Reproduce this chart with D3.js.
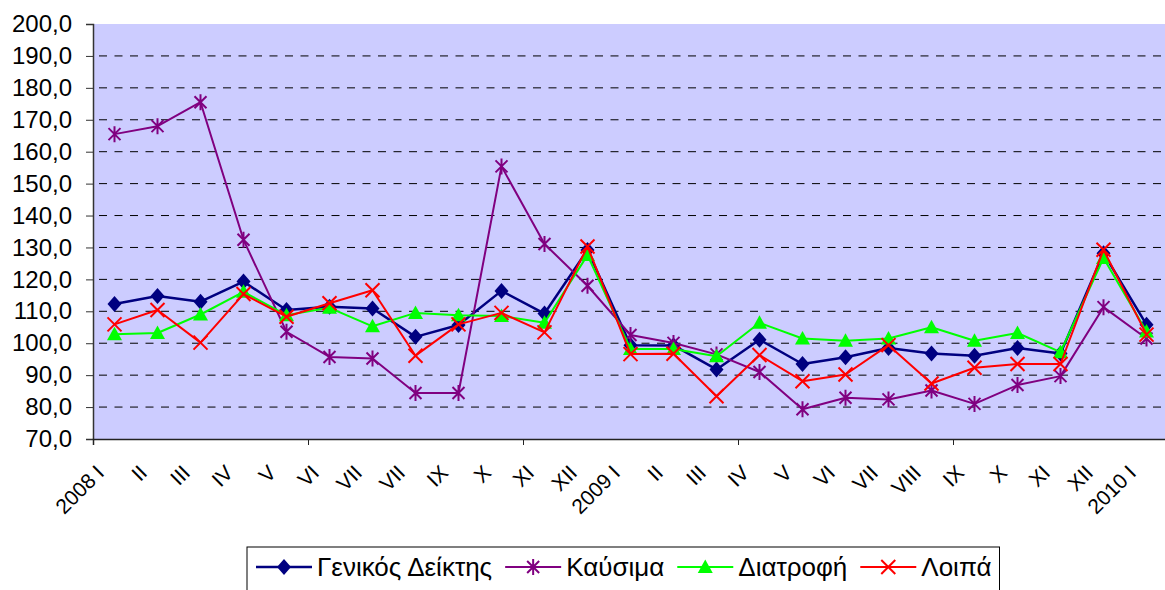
<!DOCTYPE html>
<html>
<head>
<meta charset="utf-8">
<script src="https://cdn.jsdelivr.net/npm/d3@7"></script>
<style>
  body { margin: 0; background: #fff; }
  svg { display: block; font-family: "Liberation Sans", Arial, sans-serif; }
</style>
</head>
<body>
<svg id="chart" width="1165" height="590"></svg>
<script>
// month labels along the x axis (as printed on the chart)
const months = ['2008 I', 'II', 'III', 'IV', 'V', 'VI', 'VII', 'VII', 'IX', 'X', 'XI', 'XII',
  '2009 I', 'II', 'III', 'IV', 'V', 'VI', 'VII', 'VIII', 'IX', 'X', 'XI', 'XII', '2010 I'];

const genikos = [112.3, 114.8, 113.0, 119.3, 110.4, 111.4, 110.9, 102.0, 105.7, 116.4, 109.3, 129.2,
  99.4, 99.3, 91.8, 101.1, 93.5, 95.6, 98.5, 96.8, 96.1, 98.5, 96.8, 128.2, 105.8];
const kafsima = [165.5, 168.0, 175.5, 132.4, 103.6, 95.7, 95.2, 84.4, 84.4, 155.4, 131.1, 118.0,
  102.6, 100.1, 96.5, 91.0, 79.3, 82.9, 82.4, 85.2, 81.0, 86.9, 89.7, 111.3, 101.5];
const diatrofi = [102.8, 103.2, 109.0, 116.1, 108.8, 111.1, 105.3, 109.5, 108.8, 108.5, 106.4, 127.6,
  98.2, 98.2, 95.9, 106.4, 101.5, 100.8, 101.5, 105.0, 100.8, 103.2, 97.2, 126.7, 103.7];
const loipa = [105.9, 110.4, 100.2, 115.4, 108.3, 112.5, 116.6, 96.1, 105.9, 109.5, 103.4, 130.3,
  96.6, 96.7, 83.4, 96.3, 88.1, 90.2, 99.4, 87.4, 92.3, 93.5, 93.5, 129.3, 102.7];

const seriesNames = ['Γενικός Δείκτης', 'Καύσιμα', 'Διατροφή', 'Λοιπά'];
const yTicks = d3.range(70, 201, 10);

const series = [
  { name: seriesNames[0], values: genikos, color: '#000080', marker: 'diamond', width: 2.5 },
  { name: seriesNames[1], values: kafsima, color: '#800080', marker: 'star', width: 2 },
  { name: seriesNames[2], values: diatrofi, color: '#00FF00', marker: 'triangle', width: 2 },
  { name: seriesNames[3], values: loipa, color: '#FF0000', marker: 'cross', width: 2 }
];

const svg = d3.select('#chart');
const plotLeft = 93, plotRight = 1168, plotTop = 24, plotBottom = 439;

const x = d3.scaleBand().domain(d3.range(months.length)).range([plotLeft, plotRight]);
const xEdge = d3.scaleLinear().domain([0, months.length]).range([plotLeft, plotRight]);
const y = d3.scaleLinear().domain([70, 200]).range([plotBottom, plotTop]);

// plot background
svg.append('rect')
  .attr('x', plotLeft).attr('y', plotTop)
  .attr('width', plotRight - plotLeft).attr('height', plotBottom - plotTop)
  .attr('fill', '#CCCCFF');

// dashed gridlines
svg.append('g')
  .selectAll('line')
  .data(yTicks.filter(d => d > 70 && d < 200))
  .join('line')
  .attr('x1', plotLeft + 6).attr('x2', plotRight)
  .attr('y1', d => y(d)).attr('y2', d => y(d))
  .attr('stroke', '#000')
  .attr('stroke-width', 1)
  .attr('stroke-dasharray', '8,7.5');

// y axis
const yAxis = svg.append('g')
  .attr('transform', `translate(${plotLeft},0)`)
  .call(d3.axisLeft(y).tickValues(yTicks).tickSize(7).tickPadding(14)
    .tickFormat(d => d3.format('.1f')(d).replace('.', ',')));
yAxis.select('.domain').attr('stroke', '#333').attr('stroke-width', 1.5);
yAxis.selectAll('.tick line').attr('stroke', '#333');
yAxis.selectAll('text').attr('font-size', 24).attr('fill', '#000')
  .attr('font-family', '"Liberation Sans", Arial, sans-serif');

// x axis (ticks every 5 months)
const xAxis = svg.append('g')
  .attr('transform', `translate(0,${plotBottom})`)
  .call(d3.axisBottom(xEdge).tickValues(d3.range(0, months.length + 1, 5)).tickSize(6).tickFormat(''));
xAxis.select('.domain').attr('stroke', '#222').attr('stroke-width', 1.5);
xAxis.selectAll('.tick line').attr('stroke', '#222');

svg.append('g')
  .selectAll('text')
  .data(months)
  .join('text')
  .attr('transform', (d, i) => `translate(${x(i) + x.bandwidth() / 2 - 9},${plotBottom + 35}) rotate(-45)`)
  .attr('text-anchor', 'end')
  .attr('font-size', 21)
  .attr('fill', '#000')
  .text(d => d);

// marker shapes
function drawMarker(g, type, color) {
  if (type === 'diamond') {
    g.append('path').attr('d', 'M0,-8L7,0L0,8L-7,0Z').attr('fill', color);
  } else if (type === 'triangle') {
    g.append('path').attr('d', 'M0,-7.5L7.5,6L-7.5,6Z').attr('fill', color);
  } else if (type === 'star') {
    g.append('path').attr('d', 'M-6,-6L6,6M-6,6L6,-6M0,-8L0,8')
      .attr('stroke', color).attr('stroke-width', 2).attr('fill', 'none');
  } else if (type === 'cross') {
    g.append('path').attr('d', 'M-7,-7L7,7M-7,7L7,-7')
      .attr('stroke', color).attr('stroke-width', 2).attr('fill', 'none');
  }
}

const line = d3.line()
  .x((d, i) => x(i) + x.bandwidth() / 2)
  .y(d => y(d));

// draw series in order, later ones on top
series.forEach(s => {
  const g = svg.append('g');
  g.append('path')
    .datum(s.values)
    .attr('d', line)
    .attr('fill', 'none')
    .attr('stroke', s.color)
    .attr('stroke-width', s.width)
    .attr('stroke-linejoin', 'round');
  g.selectAll('g')
    .data(s.values)
    .join('g')
    .attr('transform', (d, i) => `translate(${x(i) + x.bandwidth() / 2},${y(d)})`)
    .each(function () { drawMarker(d3.select(this), s.marker, s.color); });
});

// legend
const legend = svg.append('g');
const box = legend.append('rect')
  .attr('x', 247).attr('y', 547)
  .attr('height', 60)
  .attr('fill', '#fff')
  .attr('stroke', '#000')
  .attr('stroke-width', 1);

let lx = 256;
const ly = 567;
series.forEach(s => {
  const item = legend.append('g');
  item.append('line')
    .attr('x1', lx).attr('x2', lx + 56)
    .attr('y1', ly).attr('y2', ly)
    .attr('stroke', s.color).attr('stroke-width', s.width);
  const m = item.append('g').attr('transform', `translate(${lx + 28},${ly})`);
  drawMarker(m, s.marker, s.color);
  const t = item.append('text')
    .attr('x', lx + 61).attr('y', ly + 9)
    .attr('font-size', 26)
    .attr('fill', '#000')
    .text(s.name);
  lx = lx + 61 + t.node().getComputedTextLength() + 13;
});
box.attr('width', lx - 13 + 8 - 247);
</script>
</body>
</html>
